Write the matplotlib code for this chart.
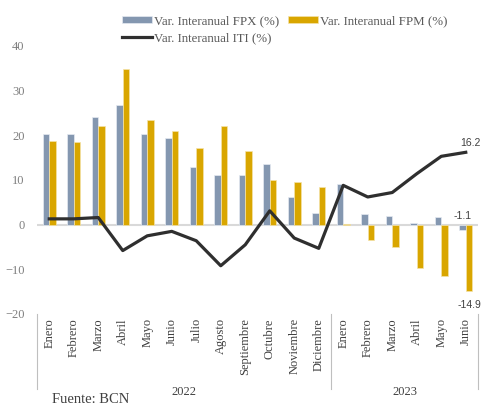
import matplotlib
matplotlib.use('Agg')
import matplotlib.pyplot as plt
import numpy as np

# datos
meses = ['Enero', 'Febrero', 'Marzo', 'Abril', 'Mayo', 'Junio', 'Julio', 'Agosto',
         'Septiembre', 'Octubre', 'Noviembre', 'Diciembre',
         'Enero', 'Febrero', 'Marzo', 'Abril', 'Mayo', 'Junio']
anios = ['2022', '2023']
fpx = [20.3, 20.2, 24.0, 26.8, 20.4, 19.3, 12.8, 11.1, 11.2, 13.5, 6.2, 2.7,
       9.0, 2.5, 1.9, 0.4, 1.7, -1.1]
fpm = [18.8, 18.6, 22.0, 34.8, 23.5, 20.9, 17.2, 22.2, 16.6, 10.1, 9.5, 8.5,
       0.2, -3.4, -4.9, -9.8, -11.6, -14.9]
iti = [1.3, 1.3, 1.6, -5.8, -2.5, -1.5, -3.6, -9.2, -4.5, 3.1, -3.0, -5.3,
       8.8, 6.2, 7.2, 11.4, 15.3, 16.2]

c_fpx = '#8497B0'
c_fpm = '#D9A600'
c_iti = '#2F2F2F'
serif = 'Liberation Serif'

fig = plt.figure(figsize=(4.84, 4.07), dpi=100)
ax = fig.add_axes([37/484, 1-314/407, (478-37)/484, (314-46)/407])

x = np.arange(len(meses))
w = 0.275
ax.bar(x - w/2, fpx, w, color=c_fpx, edgecolor='#E6EBF2', linewidth=0.5,
       label='Var. Interanual FPX (%)', zorder=2)
ax.bar(x + w/2, fpm, w, color=c_fpm, edgecolor='#F5E3A8', linewidth=0.5,
       label='Var. Interanual FPM (%)', zorder=2)
ax.plot(x, iti, color=c_iti, lw=2.3, label='Var. Interanual ITI (%)', zorder=3)

ax.axhline(0, color='#D9D9D9', lw=1.5, zorder=1)
ax.set_xlim(-0.5, len(meses) - 0.5)
ax.set_ylim(-20, 40)
ax.set_yticks([-20, -10, 0, 10, 20, 30, 40])
for s in ax.spines.values():
    s.set_visible(False)
ax.tick_params(axis='y', length=0, pad=9, labelsize=9, labelcolor='#7F7F7F')
ax.tick_params(axis='x', length=0, pad=3, labelsize=9, labelcolor='#404040')
for t in ax.get_yticklabels():
    t.set_fontfamily(serif)
ax.set_xticks(x)
ax.set_xticklabels(meses, rotation=90, va='top', ha='center', fontfamily=serif)

# separadores de anio
tr = ax.get_xaxis_transform()
for xs in [-0.5, 11.5, 17.5]:
    ax.plot([xs, xs], [0, -0.28], transform=tr, color='#BFBFBF', lw=0.8, clip_on=False)
ax.text(5.5, -0.292, anios[0], transform=tr, ha='center', va='center',
        fontsize=9, fontfamily=serif, color='#404040')
ax.text(14.5, -0.292, anios[1], transform=tr, ha='center', va='center',
        fontsize=9, fontfamily=serif, color='#404040')

# etiquetas de datos
ax.annotate(f'{iti[-1]:.1f}', (x[-1], iti[-1]), xytext=(3, 7), textcoords='offset points',
            ha='center', va='center', fontsize=7.5, fontfamily='Liberation Sans', color='#404040')
ax.annotate(f'{fpx[-1]:.1f}', (x[-1] - w/2, 0), xytext=(0, 6), textcoords='offset points',
            ha='center', va='center', fontsize=7.5, fontfamily='Liberation Sans', color='#404040')
ax.annotate(f'{fpm[-1]:.1f}', (x[-1] + w/2, fpm[-1]), xytext=(0, -10), textcoords='offset points',
            ha='center', va='center', fontsize=7.5, fontfamily='Liberation Sans', color='#404040')

h, l = ax.get_legend_handles_labels()
# orden: FPX, ITI (col 1), FPM (col 2)
order = [1, 0, 2]
leg = fig.legend([h[i] for i in order], [l[i] for i in order], ncol=2,
                 loc='upper left', bbox_to_anchor=(122/484, 1-15/407), frameon=False,
                 prop={'family': serif, 'size': 9.3}, handlelength=2.3, handleheight=0.45,
                 handletextpad=0.15, columnspacing=0.7, labelspacing=0.4,
                 borderpad=0, borderaxespad=0)
for t in leg.get_texts():
    t.set_color('#595959')

fig.text(52/484, 1-406/407, 'Fuente: BCN', ha='left', va='bottom', fontsize=10.5,
         fontfamily=serif, color='#404040')

fig.savefig('out.png', dpi=100)
